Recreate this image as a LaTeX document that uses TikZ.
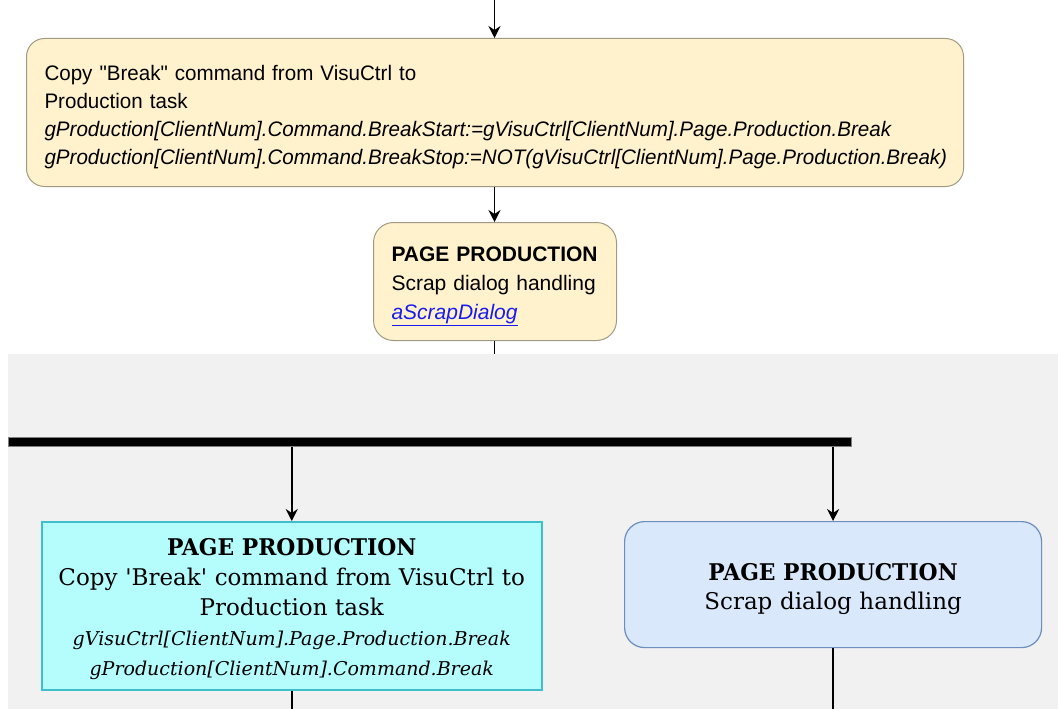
\documentclass[tikz,border=0pt]{standalone}
\usepackage{fontspec}
\setmainfont{DejaVu Serif}
\newfontfamily\narrowsans{Liberation Sans}[FakeStretch=0.98]
\newfontfamily\plainsans{Liberation Sans}
\newfontfamily\serifbody{DejaVu Serif}[BoldFeatures={FakeStretch=0.95}]
\usetikzlibrary{arrows.meta}
\definecolor{noteFill}{HTML}{FFF2CC}
\definecolor{noteLine}{HTML}{A09A84}
\definecolor{laneFill}{HTML}{F1F1F1}
\definecolor{cyanFill}{HTML}{B5FCFC}
\definecolor{cyanLine}{HTML}{3FBFCA}
\definecolor{blueFill}{HTML}{DAE8FC}
\definecolor{blueLine}{HTML}{6C8EBF}
\definecolor{linkBlue}{HTML}{1A1AEE}
% invisible strut that lowers a text block by extra head room
\newcommand{\headroom}[1]{\rule{0pt}{#1}}
\tikzset{
  flow/.style={draw=black, line width=1.5pt, -{Stealth[length=12pt,width=12pt,inset=4pt]}},
  plain/.style={draw=black, line width=1.5pt},
  notebox/.style={draw=noteLine, fill=noteFill, line width=1pt, rounded corners=18pt,
    inner xsep=18pt, inner ysep=0pt, align=left},
  cyanbox/.style={draw=cyanLine, fill=cyanFill, line width=1.5pt, inner sep=0pt, align=center},
  bluebox/.style={draw=blueLine, fill=blueFill, line width=1.2pt, rounded corners=20pt,
    inner sep=0pt, align=center},
  forkbar/.style={draw=gray, fill=black, line width=0.8pt, inner sep=0pt},
}
\begin{document}
\begin{tikzpicture}[x=1pt, y=-1pt]
\useasboundingbox (0,0) rectangle (1058,709);
% swimlane background
\fill[laneFill] (8,354) rectangle (1058,709);
\coordinate (entry) at (494.5,0);
% copy step
\node[notebox, minimum width=937pt, minimum height=148pt, text width=901pt,
  font=\narrowsans\fontsize{21}{28}\selectfont, anchor=north west] (copy) at (26,38)
  {\headroom{23.5pt}Copy "Break" command from VisuCtrl to\\
   Production task\\
   \textit{gProduction[ClientNum].Command.BreakStart:=gVisuCtrl[ClientNum].Page.Production.Break}\\
   \textit{gProduction[ClientNum].Command.BreakStop:=NOT(gVisuCtrl[ClientNum].Page.Production.Break)}};
% scrap dialog step
\node[notebox, rounded corners=20pt, minimum width=243pt, minimum height=118pt, text width=207pt,
  font=\plainsans\fontsize{21}{29}\selectfont, anchor=north west] (scrap) at (373,222)
  {\headroom{23.5pt}\textbf{PAGE PRODUCTION}\\
   Scrap dialog handling\\
   {\color{linkBlue}\underline{\textit{aScrapDialog}}}};
\coordinate (laneTop) at (494.5,354);
% fork bar
\node[forkbar, minimum width=843pt, minimum height=9pt, anchor=north west] (bar) at (8,437) {};
% parallel branches
\node[cyanbox, minimum width=500pt, minimum height=168pt, text width=500pt,
  font=\serifbody\fontsize{23}{30}\selectfont, anchor=north west] (copyPage) at (41,521)
  {\headroom{23pt}\textbf{PAGE PRODUCTION}\\
   Copy 'Break' command from VisuCtrl to\\
   Production task\\
   {\fontsize{19}{30}\selectfont\itshape gVisuCtrl[ClientNum].Page.Production.Break}\\
   {\fontsize{19}{30}\selectfont\itshape gProduction[ClientNum].Command.Break}};
\node[bluebox, minimum width=417pt, minimum height=126pt, text width=417pt,
  font=\serifbody\fontsize{23}{29}\selectfont, anchor=north west] (scrapPage) at (624,521)
  {\headroom{25pt}\textbf{PAGE PRODUCTION}\\
   Scrap dialog handling};
\coordinate (outLeft) at (copyPage.south |- 0,709);
\coordinate (outRight) at (scrapPage.south |- 0,709);
% connectors
\draw[flow] (entry) -- (copy.north -| entry);
\draw[flow] (copy.south -| entry) -- (scrap.north -| entry);
\draw[plain] (scrap.south -| entry) -- (laneTop);
\draw[flow] (bar.south -| copyPage.north) -- (copyPage.north);
\draw[flow] (bar.south -| scrapPage.north) -- (scrapPage.north);
\draw[plain] (copyPage.south) -- (outLeft);
\draw[plain] (scrapPage.south) -- (outRight);
\end{tikzpicture}
\end{document}
